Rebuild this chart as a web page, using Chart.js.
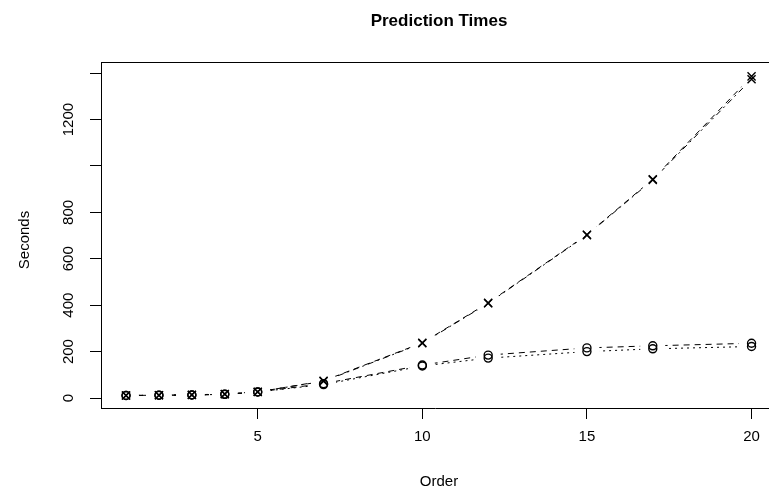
<!DOCTYPE html>
<html>
<head>
  <meta charset="UTF-8">
  <title>Prediction Times</title>
  <script src="https://cdn.jsdelivr.net/npm/chart.js"></script>
  <style>
    body {
      margin: 0;
      background: #fff;
    }
  </style>
</head>
<body>
  <canvas id="chart" width="769" height="495"></canvas>

  <script>
    // values
    const orders = [1, 2, 3, 4, 5, 7, 10, 12, 15, 17, 20];
    const crossDashed = [11, 12, 13, 16, 26, 74, 238, 410, 704, 943, 1386];
    const crossDotDash = [11, 12, 14, 17, 27, 72, 236, 408, 702, 940, 1374];
    const circleDashed = [11, 12, 13, 16, 26, 62, 142, 185, 216, 225, 236];
    const circleDotted = [11, 12, 13, 16, 26, 58, 138, 172, 200, 212, 222];

    const xTicks = [5, 10, 15, 20];
    const yTicks = [0, 200, 400, 600, 800, 1000, 1200, 1400];
    const yLabels = ['0', '200', '400', '600', '800', '', '1200', ''];

    const font = '"Liberation Sans", Arial, sans-serif';

    function points(ys) {
      return orders.map((x, i) => ({ x: x, y: ys[i] }));
    }

    function series(ys, style, dash) {
      return {
        data: points(ys),
        borderColor: '#000',
        borderWidth: 1,
        borderDash: dash,
        pointStyle: style,
        pointRadius: style === 'crossRot' ? 5.7 : 4,
        pointBorderColor: '#000',
        pointBorderWidth: 1.4,
        pointBackgroundColor: 'rgba(0,0,0,0)',
        tension: 0,
        fill: false
      };
    }

    // R type="b": lines stop short of the points
    const gapPoints = {
      id: 'gapPoints',
      afterDatasetsDraw(chart) {
        const ctx = chart.ctx;
        const area = chart.chartArea;
        const metas = chart.getSortedVisibleDatasetMetas();
        ctx.save();
        ctx.beginPath();
        ctx.rect(area.left + 1, area.top + 1, area.right - area.left - 1, area.bottom - area.top - 1);
        ctx.clip();
        ctx.fillStyle = '#fff';
        metas.forEach(meta => {
          meta.data.forEach(p => {
            ctx.beginPath();
            ctx.arc(p.x, p.y, 12.5, 0, Math.PI * 2);
            ctx.fill();
          });
        });
        ctx.restore();
        metas.forEach(meta => {
          meta.data.forEach(p => p.draw(ctx, area));
        });
      }
    };

    // text and the top of the box, R style
    const rText = {
      id: 'rText',
      afterDraw(chart) {
        const ctx = chart.ctx;
        const area = chart.chartArea;
        const y = chart.scales.y;
        ctx.save();
        ctx.strokeStyle = '#000';
        ctx.lineWidth = 1;
        ctx.beginPath();
        ctx.moveTo(area.left, area.top + 0.5);
        ctx.lineTo(area.right, area.top + 0.5);
        ctx.stroke();

        ctx.fillStyle = '#000';
        ctx.textAlign = 'center';
        ctx.textBaseline = 'middle';
        ctx.font = 'bold 17px ' + font;
        ctx.fillText('Prediction Times', 439, 21);
        ctx.font = '15px ' + font;
        ctx.fillText('Order', 439, 482);

        ctx.save();
        ctx.translate(25, 240);
        ctx.rotate(-Math.PI / 2);
        ctx.fillText('Seconds', 0, 0);
        ctx.restore();

        yTicks.forEach((v, i) => {
          if (!yLabels[i]) return;
          ctx.save();
          ctx.translate(69, y.getPixelForValue(v));
          ctx.rotate(-Math.PI / 2);
          ctx.fillText(yLabels[i], 0, 0);
          ctx.restore();
        });
        ctx.restore();
      }
    };

    new Chart(document.getElementById('chart'), {
      type: 'line',
      data: {
        datasets: [
          series(crossDashed, 'crossRot', [6, 5]),
          series(crossDotDash, 'crossRot', [2, 4, 6, 4]),
          series(circleDashed, 'circle', [6, 5]),
          series(circleDotted, 'circle', [2, 4])
        ]
      },
      options: {
        responsive: false,
        animation: false,
        layout: { autoPadding: false, padding: { top: 62, left: 0, right: 0, bottom: 0 } },
        plugins: {
          legend: { display: false },
          tooltip: { enabled: false }
        },
        scales: {
          x: {
            type: 'linear',
            min: 0.24,
            max: 20.53,
            afterBuildTicks: s => { s.ticks = xTicks.map(v => ({ value: v })); },
            afterFit: s => { s.height = 87; s.paddingLeft = 0; s.paddingRight = 0; },
            grid: { drawOnChartArea: false, drawTicks: true, tickLength: 11, color: '#000' },
            border: { display: true, color: '#000', width: 1 },
            ticks: { color: '#000', padding: 9, maxRotation: 0, font: { family: font, size: 15 } }
          },
          y: {
            type: 'linear',
            min: -43,
            max: 1448,
            afterBuildTicks: s => { s.ticks = yTicks.map(v => ({ value: v })); },
            afterFit: s => { s.width = 101; },
            grid: { drawOnChartArea: false, drawTicks: true, tickLength: 11, color: '#000' },
            border: { display: true, color: '#000', width: 1 },
            ticks: { display: false }
          }
        }
      },
      plugins: [gapPoints, rText]
    });
  </script>
</body>
</html>
